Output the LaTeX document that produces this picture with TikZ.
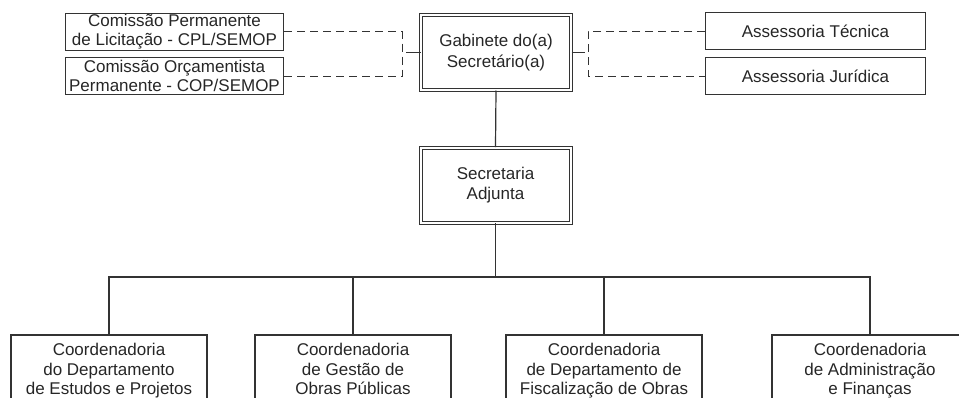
\documentclass[tikz,border=0pt]{standalone}
\usepackage{fontspec}
\setmainfont{Liberation Sans}
\usetikzlibrary{positioning}
\definecolor{linha}{HTML}{333333}

\begin{document}
\begin{tikzpicture}[x=1pt, y=-1pt,
    every node/.style={font=\fontsize{17}{18.5}\selectfont, align=center, text=black!85, inner sep=0pt},
    caixa/.style={draw=linha, line width=1pt, minimum width=218pt, minimum height=37pt},
    duplo/.style={draw=linha, double, line width=1pt, double distance=2pt, minimum width=150pt, minimum height=75pt,
      font=\fontsize{17}{20.5}\selectfont},
    coord/.style={draw=linha, line width=2pt, minimum width=196pt, minimum height=74pt,
      font=\fontsize{17}{19.5}\selectfont, execute at begin node=\strut, execute at end node=\strut},
    tracejado/.style={draw=linha, line width=1pt, dash pattern=on 8pt off 5pt},
    liga/.style={draw=linha, line width=1.2pt}]
      \path[use as bounding box, clip] (0,0) rectangle (959,397);
      % topo
      \node[duplo] (gab) at (496,52.5) {Gabinete do(a)\\Secretário(a)};
      \node[caixa] (cpl) at (174.5,31.5) {Comissão Permanente\\de Licitação - CPL/SEMOP};
      \node[caixa] (cop) at (174.5,76) {Comissão Orçamentista\\Permanente - COP/SEMOP};
      \node[caixa, minimum width=220pt] (tec) at (815.5,31) {Assessoria Técnica};
      \node[caixa, minimum width=220pt] (jur) at (815.5,76) {Assessoria Jurídica};
      \coordinate (esq) at (402,52.5);
      \coordinate (dir) at (588,52.5);
      \path[tracejado] (cpl.east) -| (esq) |- (cop.east);
      \path[tracejado] (tec.west) -| (dir) |- (jur.west);
      \path[liga, line width=1pt] (esq) ++(4,0) -- (gab.west);
      \path[liga, line width=1pt] (gab.east) -- ++(13,0);
      % meio
      \node[duplo] (sec) at (495.5,185) {Secretaria\\Adjunta};
      \path[liga] (gab.south) -- (sec.north);
      % coordenadorias
      \node[coord] (cdep) at (109,372) {Coordenadoria\\do Departamento\\de Estudos e Projetos};
      \node[coord] (cgop) at (353,372) {Coordenadoria\\de Gestão de\\Obras Públicas};
      \node[coord] (cfis) at (604,372) {Coordenadoria\\de Departamento de\\Fiscalização de Obras};
      \node[coord] (cadm) at (870,372) {Coordenadoria\\de Administração\\e Finanças};
      \coordinate (barra) at (495.5,277);
      \path[liga] (sec.south) -- (barra);
      \foreach \c in {cdep, cgop, cfis, cadm}
        \path[liga] (barra) -| (\c.north);
\end{tikzpicture}
\end{document}
